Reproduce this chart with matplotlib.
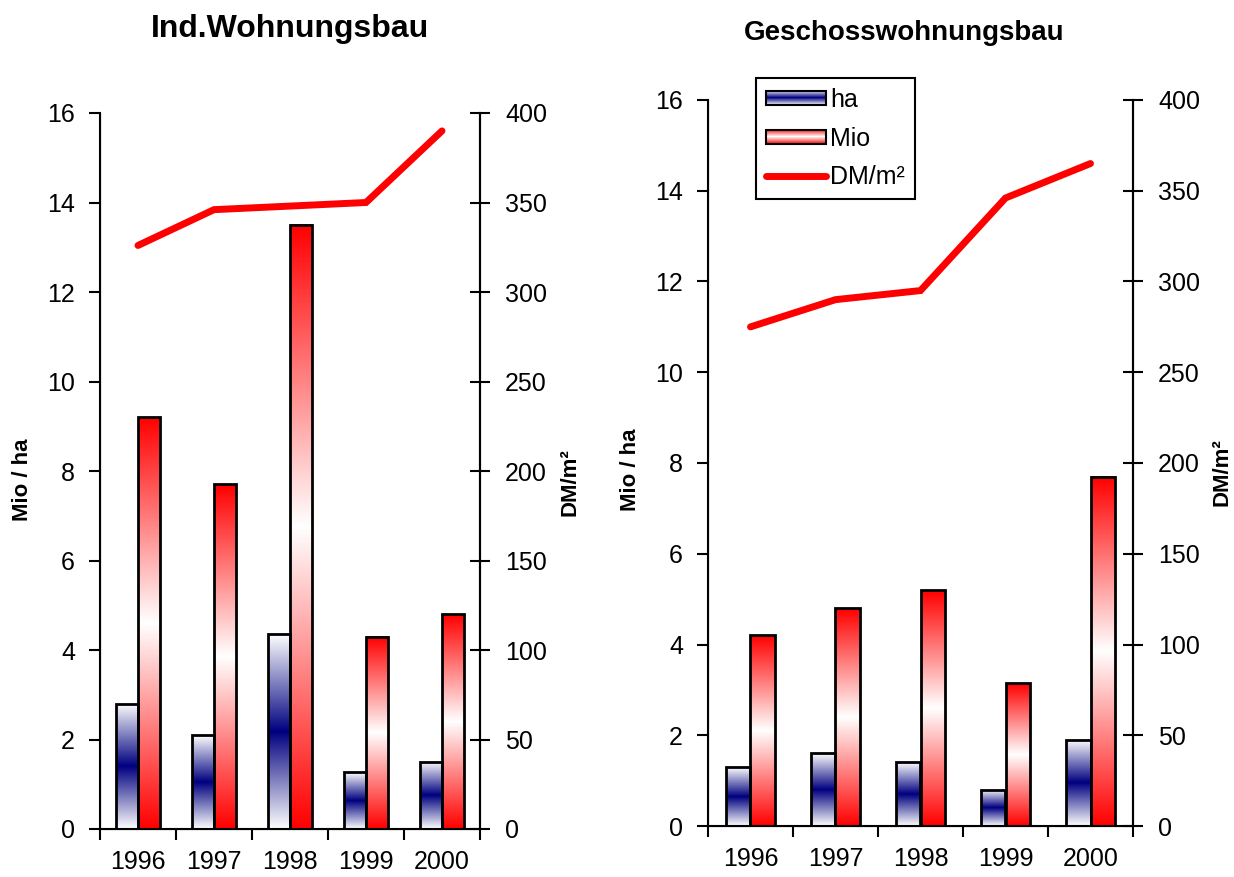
import numpy as np
import matplotlib
matplotlib.use("Agg")
import matplotlib.pyplot as plt
from matplotlib.patches import Rectangle
from matplotlib.legend_handler import HandlerBase
from matplotlib.image import BboxImage
from matplotlib.transforms import Bbox, TransformedBbox
from matplotlib.lines import Line2D

plt.rcParams['font.family'] = ['Liberation Sans', 'DejaVu Sans']

years = ["1996", "1997", "1998", "1999", "2000"]

# Individueller Wohnungsbau
ind_ha = [2.8, 2.1, 4.35, 1.27, 1.5]
ind_mio = [9.2, 7.7, 13.5, 4.3, 4.8]
ind_price = [326, 346, 348, 350, 390]

# Geschosswohnungsbau
gesch_ha = [1.3, 1.6, 1.4, 0.8, 1.9]
gesch_mio = [4.2, 4.8, 5.2, 3.15, 7.7]
gesch_price = [275, 290, 295, 346, 365]

NAVY = np.array([0.0, 0.0, 0.5])
RED = np.array([1.0, 0.0, 0.0])
WHITE = np.array([1.0, 1.0, 1.0])

W, H = 1234, 877


def gradient(mid, ends, n=256):
    t = np.linspace(0, 1, n)
    w = np.abs(2 * t - 1)[:, None]
    rgb = mid[None, :] * (1 - w) + ends[None, :] * w
    return rgb[:, None, :]


HA_GRAD = gradient(NAVY, WHITE)
MIO_GRAD = gradient(WHITE, RED)


class GradientPatchHandler(HandlerBase):
    def __init__(self, grad):
        super().__init__()
        self.grad = grad

    def create_artists(self, legend, orig_handle, xdescent, ydescent,
                       width, height, fontsize, trans):
        x0, y0 = -xdescent, -ydescent
        bbox = TransformedBbox(Bbox.from_bounds(x0, y0, width, height), trans)
        img = BboxImage(bbox, interpolation='bilinear')
        img.set_data(self.grad)
        rect = Rectangle((x0, y0), width, height, facecolor='none',
                         edgecolor='black', linewidth=1.5, transform=trans)
        return [img, rect]


BAR_W = 0.29
TICK_FS = 18
LABEL_FS = 16


def px(x, y):
    return x / W, 1 - y / H


def draw_panel(fig, rect, title, title_pos, title_fs, lab_l, lab_r,
               ha, mio, price):
    ax = fig.add_axes(rect)
    x = np.arange(len(years))
    for xi, h, m in zip(x, ha, mio):
        for xc, val, grad in ((xi - BAR_W / 2, h, HA_GRAD), (xi + BAR_W / 2, m, MIO_GRAD)):
            ax.imshow(grad, extent=(xc - BAR_W / 2, xc + BAR_W / 2, 0, val),
                      aspect='auto', interpolation='bilinear', zorder=1)
    ax.bar(x - BAR_W / 2, ha, BAR_W, facecolor='none', edgecolor='black',
           linewidth=2, zorder=2)
    ax.bar(x + BAR_W / 2, mio, BAR_W, facecolor='none', edgecolor='black',
           linewidth=2, zorder=2)
    ax.set_xlim(-0.5, len(years) - 0.5)
    ax.set_ylim(0, 16)
    ax.set_yticks(np.arange(0, 17, 2))
    ax.set_xticks(np.arange(-0.5, len(years), 1.0))
    ax.set_xticklabels([])
    ax.set_xticks(x, minor=True)
    ax.set_xticklabels(years, minor=True)
    ax.tick_params(axis='x', which='major', direction='out', length=8, width=1.5)
    ax.tick_params(axis='x', which='minor', length=0, pad=15, labelsize=TICK_FS)
    ax.tick_params(axis='y', direction='out', length=8, width=1.5, pad=10,
                   labelsize=TICK_FS)
    ax.spines['top'].set_visible(False)
    for s in ('left', 'bottom', 'right'):
        ax.spines[s].set_linewidth(1.5)
    ax.set_ylabel("Mio / ha", fontsize=LABEL_FS, fontweight='bold',
                  ha='center', va='center')
    ax.yaxis.set_label_coords(*px(*lab_l), transform=fig.transFigure)

    ax2 = ax.twinx()
    ax2.plot(x, price, color='#ff0000', linewidth=5, solid_capstyle='round',
             solid_joinstyle='miter', zorder=3)
    ax2.set_ylim(0, 400)
    ax2.set_yticks(np.arange(0, 401, 50))
    ax2.tick_params(axis='y', direction='inout', length=14, width=1.5, pad=11,
                    labelsize=TICK_FS)
    ax2.spines['top'].set_visible(False)
    ax2.spines['right'].set_linewidth(1.5)
    ax2.set_ylabel("DM/m²", fontsize=LABEL_FS, fontweight='bold',
                   ha='center', va='center')
    ax2.yaxis.set_label_coords(*px(*lab_r), transform=fig.transFigure)
    fig.text(*px(*title_pos), title, fontsize=title_fs, fontweight='bold',
             ha='center', va='baseline')
    return ax, ax2


fig = plt.figure(figsize=(W / 100, H / 100), dpi=100)

axL, axL2 = draw_panel(fig, [100 / W, 1 - 829 / H, 380 / W, 716 / H],
                       "Ind.Wohnungsbau", (290, 37), 23, (22, 480), (570, 482),
                       ind_ha, ind_mio, ind_price)
axR, axR2 = draw_panel(fig, [708 / W, 1 - 826 / H, 425 / W, 726 / H],
                       "Geschosswohnungsbau", (904, 40), 20, (631, 470), (1222, 472),
                       gesch_ha, gesch_mio, gesch_price)

h_ha = Rectangle((0, 0), 1, 1)
h_mio = Rectangle((0, 0), 1, 1)
h_line = Line2D([], [], color='#ff0000', linewidth=5, solid_capstyle='round')
leg = axR2.legend([h_ha, h_mio, h_line], ["ha", "Mio", "DM/m²"],
                  handler_map={h_ha: GradientPatchHandler(HA_GRAD),
                               h_mio: GradientPatchHandler(MIO_GRAD)},
                  loc='upper left', bbox_to_anchor=px(756, 78),
                  bbox_transform=fig.transFigure, fontsize=18, frameon=True,
                  fancybox=False, edgecolor='black', framealpha=1,
                  handlelength=2.4, handleheight=0.5, handletextpad=0.15,
                  labelspacing=0.58, borderpad=0.4, borderaxespad=0)
leg.get_frame().set_linewidth(1.5)

fig.savefig("out.png", dpi=100)
